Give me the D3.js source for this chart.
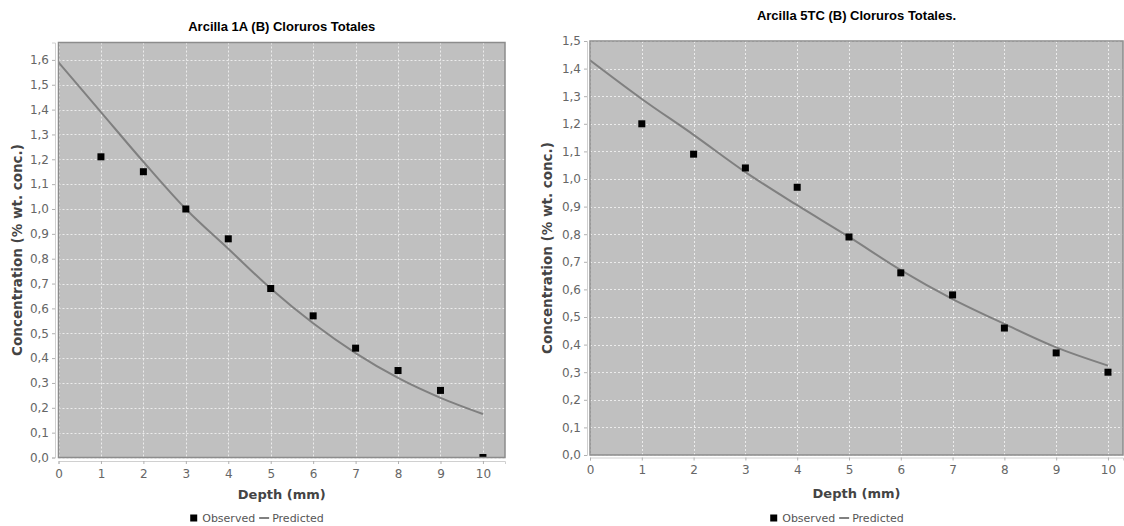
<!DOCTYPE html>
<html>
<head>
<meta charset="utf-8">
<script src="https://cdn.jsdelivr.net/npm/d3@7"></script>
<style>
  html, body { margin: 0; padding: 0; background: #ffffff; }
  svg { display: block; }
</style>
</head>
<body>
<svg id="chart" width="1124" height="526"></svg>
<script>
// Depth positions (mm) shared by both profiles
const depths = [0, 1, 2, 3, 4, 5, 6, 7, 8, 9, 10];
const observedDepths = [1, 2, 3, 4, 5, 6, 7, 8, 9, 10];

// Arcilla 1A — total chlorides
const obs1A = [1.21, 1.15, 1.00, 0.88, 0.68, 0.57, 0.44, 0.35, 0.27, 0.00];
const pred1A = [1.59, 1.39, 1.19, 1.00, 0.84, 0.68, 0.54, 0.42, 0.32, 0.24, 0.175];

// Arcilla 5TC — total chlorides
const obs5TC = [1.20, 1.09, 1.04, 0.97, 0.79, 0.66, 0.58, 0.46, 0.37, 0.30];
const pred5TC = [1.43, 1.29, 1.16, 1.025, 0.905, 0.79, 0.67, 0.565, 0.475, 0.39, 0.324];

// Tick values
const xTicks = [0, 1, 2, 3, 4, 5, 6, 7, 8, 9, 10];
const yTicks1A = [0, 0.1, 0.2, 0.3, 0.4, 0.5, 0.6, 0.7, 0.8, 0.9, 1.0, 1.1, 1.2, 1.3, 1.4, 1.5, 1.6];
const yTicks5TC = [0, 0.1, 0.2, 0.3, 0.4, 0.5, 0.6, 0.7, 0.8, 0.9, 1.0, 1.1, 1.2, 1.3, 1.4, 1.5];

const titles = ["Arcilla 1A (B) Cloruros Totales", "Arcilla 5TC (B) Cloruros Totales."];
const xLabel = "Depth (mm)";
const yLabel = "Concentration (% wt. conc.)";
const legendLabels = ["Observed", "Predicted"];

const svg = d3.select("#chart");
const fmt = d => d3.format(".1f")(d).replace(".", ",");

const panels = [
  {
    id: "p1A", title: titles[0], obs: obs1A, pred: pred1A, yTicks: yTicks1A,
    left: 58.5, right: 505, top: 42.5, bottom: 457.5,
    xMax: 10.52, yMax: 1.67,
    titleY: 31, yLabelX: 17, yAxisGap: 3.5, xAxisGap: 3.5,
    xLabelY: 499, legendX: 257, legendY: 518
  },
  {
    id: "p5TC", title: titles[1], obs: obs5TC, pred: pred5TC, yTicks: yTicks5TC,
    left: 590, right: 1123, top: 41, bottom: 455,
    xMax: 10.29, yMax: 1.5,
    titleY: 20, yLabelX: 547, yAxisGap: 3, xAxisGap: 2.5,
    xLabelY: 498, legendX: 837, legendY: 518
  }
];

panels.forEach(p => {
  const x = d3.scaleLinear().domain([0, p.xMax]).range([p.left, p.right]);
  const y = d3.scaleLinear().domain([0, p.yMax]).range([p.bottom, p.top]);
  const g = svg.append("g");

  // title
  g.append("text")
    .attr("x", (p.left + p.right) / 2).attr("y", p.titleY)
    .attr("text-anchor", "middle")
    .style("font-family", "'Liberation Sans', Arial, sans-serif")
    .style("font-weight", "bold").style("font-size", "13px")
    .attr("fill", "#000")
    .text(p.title);

  // plot background
  g.append("rect")
    .attr("x", p.left).attr("y", p.top)
    .attr("width", p.right - p.left).attr("height", p.bottom - p.top)
    .attr("fill", "#c0c0c0");

  // grid lines
  g.append("g").selectAll("line").data(xTicks).join("line")
    .attr("x1", d => Math.round(x(d)) + 0.5).attr("x2", d => Math.round(x(d)) + 0.5)
    .attr("y1", p.top).attr("y2", p.bottom)
    .attr("stroke", "#ececec").attr("stroke-width", 1)
    .attr("stroke-dasharray", "2,2");
  g.append("g").selectAll("line").data(p.yTicks).join("line")
    .attr("x1", p.left).attr("x2", p.right)
    .attr("y1", d => Math.round(y(d)) + 0.5).attr("y2", d => Math.round(y(d)) + 0.5)
    .attr("stroke", "#ececec").attr("stroke-width", 1)
    .attr("stroke-dasharray", "2,2");

  // clip region for series
  const clipId = "clip-" + p.id;
  svg.append("clipPath").attr("id", clipId).append("rect")
    .attr("x", p.left).attr("y", p.top)
    .attr("width", p.right - p.left).attr("height", p.bottom - p.top);

  const series = g.append("g").attr("clip-path", `url(#${clipId})`);

  // predicted profile
  const line = d3.line()
    .x((d, i) => x(depths[i]))
    .y(d => y(d))
    .curve(d3.curveMonotoneX);
  series.append("path")
    .datum(p.pred)
    .attr("d", line)
    .attr("fill", "none")
    .attr("stroke", "#808080")
    .attr("stroke-width", 2);

  // observed points
  const s = 7;
  series.selectAll("rect.obs").data(p.obs).join("rect")
    .attr("class", "obs")
    .attr("x", (d, i) => x(observedDepths[i]) - s / 2)
    .attr("y", d => y(d) - s / 2)
    .attr("width", s).attr("height", s)
    .attr("fill", "#000");

  // plot outline
  g.append("rect")
    .attr("x", p.left).attr("y", p.top)
    .attr("width", p.right - p.left).attr("height", p.bottom - p.top)
    .attr("fill", "none").attr("stroke", "#8c8c8c").attr("stroke-width", 1.5);

  // y axis
  const yAxis = d3.axisLeft(y).tickValues(p.yTicks).tickFormat(fmt).tickSize(3).tickPadding(3);
  const ya = g.append("g")
    .attr("transform", `translate(${p.left - p.yAxisGap},0)`)
    .call(yAxis);
  ya.select(".domain").attr("stroke", "#d0d0d0");
  ya.selectAll(".tick line").attr("stroke", "#b0b0b0");
  ya.selectAll(".tick text")
    .attr("fill", "#666")
    .style("font-family", "'DejaVu Sans', Verdana, sans-serif")
    .style("font-size", "12px");

  // x axis
  const xAxis = d3.axisBottom(x).tickValues(xTicks).tickFormat(d3.format("d")).tickSize(3).tickPadding(5);
  const xa = g.append("g")
    .attr("transform", `translate(0,${p.bottom + p.xAxisGap})`)
    .call(xAxis);
  xa.select(".domain").attr("stroke", "#d0d0d0");
  xa.selectAll(".tick line").attr("stroke", "#b0b0b0");
  xa.selectAll(".tick text")
    .attr("fill", "#666")
    .style("font-family", "'DejaVu Sans', Verdana, sans-serif")
    .style("font-size", "12px");

  // axis titles
  g.append("text")
    .attr("x", (p.left + p.right) / 2).attr("y", p.xLabelY)
    .attr("text-anchor", "middle")
    .style("font-family", "'DejaVu Sans', Verdana, sans-serif")
    .style("font-weight", "bold").style("font-size", "13px")
    .attr("fill", "#444")
    .text(xLabel);

  g.append("text")
    .attr("transform", `translate(${p.yLabelX},${(p.top + p.bottom) / 2}) rotate(-90)`)
    .attr("text-anchor", "middle")
    .attr("dy", "0.35em")
    .style("font-family", "'DejaVu Sans', Verdana, sans-serif")
    .style("font-weight", "bold").style("font-size", "13.5px")
    .attr("fill", "#444")
    .text(yLabel);

  // legend
  const lg = g.append("g");
  const lt1 = lg.append("text")
    .attr("y", p.legendY).attr("dy", "0.35em")
    .style("font-family", "'DejaVu Sans', Verdana, sans-serif")
    .style("font-size", "11px").attr("fill", "#555")
    .text(legendLabels[0]);
  const lt2 = lg.append("text")
    .attr("y", p.legendY).attr("dy", "0.35em")
    .style("font-family", "'DejaVu Sans', Verdana, sans-serif")
    .style("font-size", "11px").attr("fill", "#555")
    .text(legendLabels[1]);
  const w1 = lt1.node().getComputedTextLength();
  const w2 = lt2.node().getComputedTextLength();
  const total = 7 + 5 + w1 + 4 + 10 + 3 + w2;
  let cx = p.legendX - total / 2;
  lg.append("rect").attr("x", cx).attr("y", p.legendY - 3.5).attr("width", 7).attr("height", 7).attr("fill", "#000");
  cx += 12;
  lt1.attr("x", cx);
  cx += w1 + 4;
  lg.append("line").attr("x1", cx).attr("x2", cx + 10)
    .attr("y1", p.legendY).attr("y2", p.legendY)
    .attr("stroke", "#808080").attr("stroke-width", 2);
  cx += 13;
  lt2.attr("x", cx);
});
</script>
</body>
</html>
